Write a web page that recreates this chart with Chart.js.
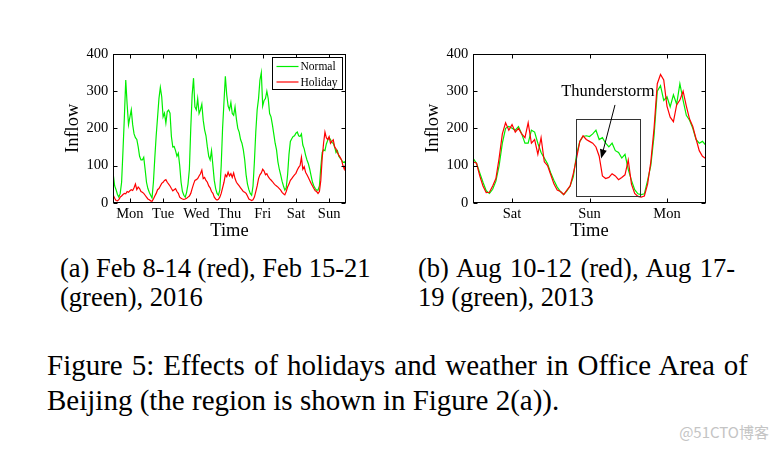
<!DOCTYPE html>
<html lang="en">
<head>
<meta charset="UTF-8">
<title>Figure 5</title>
<script src="https://cdn.jsdelivr.net/npm/chart.js"></script>
<style>
    body {
        margin: 0;
        width: 778px;
        height: 450px;
        position: relative;
        overflow: hidden;
        background: #fff;
        font-family: "Liberation Serif", "DejaVu Serif", serif;
        color: #000;
    }
    .wrap { position: absolute; top: 40px; width: 310px; height: 210px; }
    #wrapA { left: 40px; }
    #wrapB { left: 400px; }
    .txt { position: absolute; white-space: nowrap; }
    .sub { font-size: 26.5px; line-height: 29px; }
    .fig { font-size: 29px; line-height: 35px; }
    .just { text-align: justify; text-align-last: justify; }
    #mark { position: absolute; right: 9px; top: 421px; font-family: "Noto Sans CJK SC", "Noto Sans", sans-serif; font-size: 15px; color: #c4c4c4; }
</style>
</head>
<body>
<div class="wrap" id="wrapA"><canvas id="chartA"></canvas></div>
<div class="wrap" id="wrapB"><canvas id="chartB"></canvas></div>

<div class="txt sub" style="left:60px; top:254px;">(a) Feb 8-14 (red), Feb 15-21</div>
<div class="txt sub" style="left:60px; top:283px;">(green), 2016</div>
<div class="txt sub just" style="left:418px; top:254px; width:317px;">(b) Aug 10-12 (red), Aug 17-</div>
<div class="txt sub" style="left:418px; top:283px;">19 (green), 2013</div>

<div class="txt fig just" style="left:47px; top:348px; width:701px;">Figure 5: Effects of holidays and weather in Office Area of</div>
<div class="txt fig" style="left:47px; top:383px;">Beijing (the region is shown in Figure 2(a)).</div>
<div id="mark">@51CTO博客</div>

<script>
// (a) one week, hourly, Mon 00:00 .. next Mon 00:00
const weekTicks = [12, 36, 60, 84, 108, 132, 156];
const weekLabels = ['Mon', 'Tue', 'Wed', 'Thu', 'Fri', 'Sat', 'Sun'];
const weekNormal = [
    75, 45, 35, 22, 15, 25, 55, 140, 230, 330, 265, 210, 230, 250, 210, 185, 175, 170, 150, 125, 115, 115, 122, 90,
    55, 38, 28, 20, 13, 55, 120, 180, 230, 280, 310, 285, 231, 241, 214, 245, 249, 241, 178, 150, 151, 140, 125, 133,
    100, 55, 30, 20, 15, 28, 50, 90, 200, 290, 335, 258, 250, 280, 240, 250, 265, 222, 196, 180, 150, 125, 115, 140,
    100, 60, 38, 25, 20, 34, 100, 200, 270, 340, 290, 260, 250, 270, 240, 235, 258, 225, 200, 190, 170, 160, 142, 115,
    75, 50, 35, 25, 20, 45, 110, 190, 250, 280, 330, 350, 260, 275, 280, 300, 280, 240, 231, 210, 185, 160, 142, 110,
    90, 75, 58, 45, 34, 40, 75, 130, 165, 172, 178, 180, 187, 190, 180, 178, 185, 155, 145, 128, 115, 105, 90, 72,
    55, 45, 38, 34, 34, 45, 95, 135, 142, 140, 158, 168, 175, 170, 162, 160, 150, 135, 140, 125, 120, 115, 108, 110,
    105
];
const weekHoliday = [
    20, 12, 6, 5, 8, 15, 18, 22, 25, 24, 30, 28, 32, 35, 33, 40, 50, 35, 42, 38, 30, 28, 25, 20,
    15, 10, 8, 5, 4, 10, 18, 25, 35, 38, 45, 52, 55, 60, 62, 55, 50, 45, 38, 32, 35, 38, 30, 25,
    15, 12, 10, 9, 10, 12, 15, 18, 25, 38, 50, 60, 62, 65, 72, 78, 88, 65, 68, 60, 55, 45, 40, 30,
    25, 15, 10, 7, 9, 15, 25, 40, 55, 75, 70, 82, 72, 78, 68, 80, 65, 55, 50, 45, 40, 35, 30, 28,
    25, 18, 10, 8, 6, 8, 15, 30, 45, 65, 75, 80, 90, 85, 75, 78, 70, 65, 61, 57, 52, 48, 45, 42,
    38, 34, 28, 24, 21, 30, 42, 50, 60, 65, 70, 75, 79, 88, 95, 100, 122, 90, 97, 82, 75, 68, 60, 52,
    45, 38, 32, 30, 25, 30, 60, 120, 160, 190, 175, 170, 178, 160, 165, 169, 150, 145, 135, 128, 122, 115, 100, 90,
    105
];

// (b) three days, hourly, Fri 00:00 .. Mon 24:00
const dayTicks = [12, 36, 60];
const dayLabels = ['Sat', 'Sun', 'Mon'];
const augNormal = [
    119, 106, 80, 55, 32, 25, 36, 58, 100, 160, 200, 205, 200, 195, 205, 185, 160, 160, 195, 190, 160, 135, 120, 105,
    80, 60, 42, 30, 22, 32, 45, 70, 130, 165, 178, 180, 178, 185, 195, 170, 175, 160, 150, 160, 140, 135, 120, 130,
    90, 60, 35, 24, 22, 24, 60, 100, 180, 300, 315, 275, 285, 258, 290, 265, 320, 275, 235, 222, 200, 170, 160, 165,
    155
];
const augHoliday = [
    110, 106, 72, 45, 27, 28, 45, 65, 120, 185, 215, 195, 210, 190, 200, 185, 175, 215, 160, 170, 130, 175, 110, 100,
    75, 50, 34, 30, 22, 34, 45, 79, 120, 165, 180, 170, 165, 160, 150, 125, 72, 65, 68, 78, 72, 62, 68, 75,
    115, 50, 25, 17, 15, 18, 50, 110, 200, 320, 345, 330, 260, 230, 218, 263, 276, 300, 260, 225, 205, 172, 140, 125,
    119
];

const GREEN = '#00ee00';
const RED = '#ff0000';
const FONT = 'Liberation Serif';

const toPoints = arr => arr.map((v, i) => ({ x: i, y: v }));

// box around the plot and the small inward ticks on all four sides
const framePlugin = {
    id: 'frame',
    afterDatasetsDraw(chart) {
        const { ctx, chartArea: a, scales: { x, y } } = chart;
        const L = Math.round(a.left) + 0.5, R = Math.round(a.right) - 0.5;
        const T = Math.round(a.top) + 0.5, B = Math.round(a.bottom) - 0.5;
        ctx.save();
        ctx.strokeStyle = '#000';
        ctx.lineWidth = 1;
        ctx.strokeRect(L, T, R - L, B - T);
        ctx.beginPath();
        x.ticks.forEach(t => {
            const px = Math.round(x.getPixelForValue(t.value)) + 0.5;
            ctx.moveTo(px, B); ctx.lineTo(px, B - 4);
            ctx.moveTo(px, T); ctx.lineTo(px, T + 4);
        });
        y.ticks.forEach(t => {
            const py = Math.round(y.getPixelForValue(t.value)) + 0.5;
            ctx.moveTo(L, py); ctx.lineTo(L + 4, py);
            ctx.moveTo(R, py); ctx.lineTo(R - 4, py);
        });
        ctx.stroke();
        ctx.restore();
    }
};

// boxed legend in the top right corner (chart a)
const boxLegend = {
    id: 'boxLegend',
    afterDraw(chart) {
        const { ctx, chartArea: a } = chart;
        const w = 70, h = 32;
        const left = Math.round(a.right - 4 - w) + 0.5, top = Math.round(a.top + 3) + 0.5;
        ctx.save();
        ctx.fillStyle = '#fff';
        ctx.fillRect(left, top, w, h);
        ctx.strokeStyle = '#000';
        ctx.lineWidth = 1;
        ctx.strokeRect(left, top, w, h);
        ctx.font = '11.5px "' + FONT + '"';
        ctx.textBaseline = 'middle';
        chart.data.datasets.forEach((ds, i) => {
            const yy = top + 9 + i * 15.5;
            ctx.strokeStyle = ds.borderColor;
            ctx.lineWidth = 1.2;
            ctx.beginPath();
            ctx.moveTo(left + 4, yy);
            ctx.lineTo(left + 26, yy);
            ctx.stroke();
            ctx.fillStyle = '#000';
            ctx.fillText(ds.label, left + 28, yy + 0.5);
        });
        ctx.restore();
    }
};

// "Thunderstorm" box and arrow (chart b)
const stormNote = {
    id: 'stormNote',
    afterDatasetsDraw(chart) {
        const { ctx, scales: { x, y } } = chart;
        const x0 = x.getPixelForValue(31.8), x1 = x.getPixelForValue(51.5);
        const y0 = y.getPixelForValue(225), y1 = y.getPixelForValue(18);
        ctx.save();
        ctx.strokeStyle = '#333';
        ctx.lineWidth = 1;
        ctx.strokeRect(Math.round(x0) + 0.5, Math.round(y0) + 0.5, Math.round(x1 - x0), Math.round(y1 - y0));

        ctx.fillStyle = '#000';
        ctx.font = '16.5px "' + FONT + '"';
        ctx.textAlign = 'center';
        ctx.textBaseline = 'middle';
        ctx.fillText('Thunderstorm', x.getPixelForValue(41.7), y.getPixelForValue(299));

        const ax = x.getPixelForValue(43.9), ay = y.getPixelForValue(263);
        const bx = x.getPixelForValue(39.6), by = y.getPixelForValue(119);
        const ang = Math.atan2(by - ay, bx - ax);
        ctx.strokeStyle = '#000';
        ctx.beginPath();
        ctx.moveTo(ax, ay);
        ctx.lineTo(bx - 6 * Math.cos(ang), by - 6 * Math.sin(ang));
        ctx.stroke();
        ctx.beginPath();
        ctx.moveTo(bx, by);
        ctx.lineTo(bx - 9 * Math.cos(ang) + 3.5 * Math.sin(ang), by - 9 * Math.sin(ang) - 3.5 * Math.cos(ang));
        ctx.lineTo(bx - 9 * Math.cos(ang) - 3.5 * Math.sin(ang), by - 9 * Math.sin(ang) + 3.5 * Math.cos(ang));
        ctx.closePath();
        ctx.fill();
        ctx.restore();
    }
};

function makeChart(id, normal, holiday, xMax, tickVals, tickNames, extra) {
    return new Chart(document.getElementById(id), {
        type: 'line',
        data: {
            datasets: [
                { label: 'Normal', data: toPoints(normal), borderColor: GREEN, borderWidth: 1.2, pointRadius: 0, order: 2 },
                { label: 'Holiday', data: toPoints(holiday), borderColor: RED, borderWidth: 1.2, pointRadius: 0, order: 1 }
            ]
        },
        options: {
            responsive: true,
            maintainAspectRatio: false,
            animation: false,
            layout: { padding: { top: 14, right: 4.3, bottom: 0, left: 0 } },
            plugins: { legend: { display: false }, tooltip: { enabled: false } },
            elements: { line: { tension: 0 } },
            scales: {
                x: {
                    type: 'linear',
                    min: 0,
                    max: xMax,
                    grid: { display: false, drawTicks: false },
                    border: { display: false },
                    afterBuildTicks: s => { s.ticks = tickVals.map(v => ({ value: v })); },
                    afterFit: s => { s.height = 47.3; },
                    ticks: {
                        padding: 3,
                        color: '#000',
                        font: { family: FONT, size: 14.5 },
                        callback: v => tickNames[tickVals.indexOf(v)]
                    },
                    title: {
                        display: true,
                        text: 'Time',
                        color: '#000',
                        font: { family: FONT, size: 18.5 },
                        padding: { top: 0, bottom: 8 }
                    }
                },
                y: {
                    min: 0,
                    max: 400,
                    grid: { display: false, drawTicks: false },
                    border: { display: false },
                    afterFit: s => { s.width = 73.3; },
                    ticks: {
                        stepSize: 100,
                        padding: 5,
                        color: '#000',
                        font: { family: FONT, size: 14.5 }
                    },
                    title: {
                        display: true,
                        text: 'Inflow',
                        color: '#000',
                        font: { family: FONT, size: 18.5 },
                        padding: { top: 22, bottom: 0 }
                    }
                }
            }
        },
        plugins: [framePlugin].concat(extra)
    });
}

makeChart('chartA', weekNormal, weekHoliday, 168, weekTicks, weekLabels, [boxLegend]);
makeChart('chartB', augNormal, augHoliday, 72, dayTicks, dayLabels, [stormNote]);
</script>
</body>
</html>
